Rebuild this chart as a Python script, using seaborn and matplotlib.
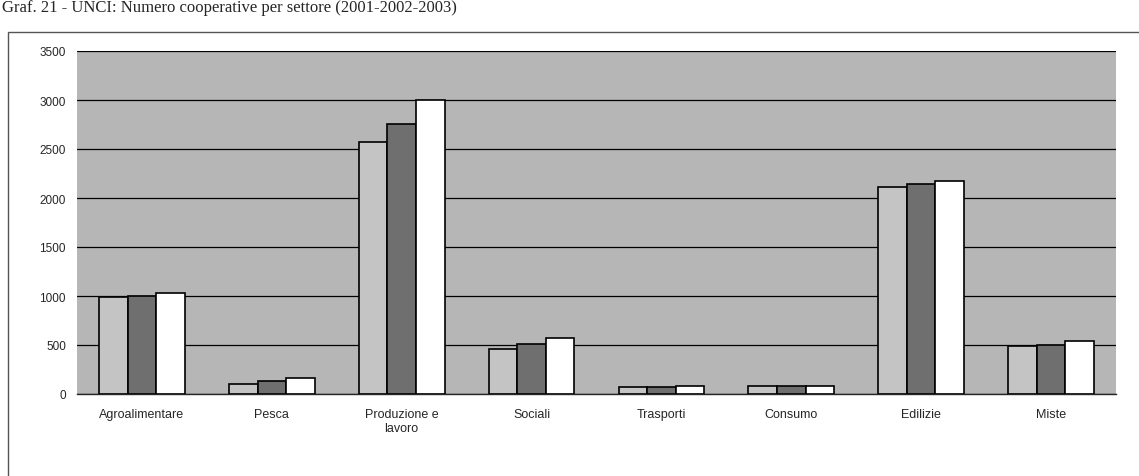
import pandas as pd
import numpy as np
import matplotlib.pyplot as plt
import matplotlib.patches as mpatches
import seaborn as sns

sns.set_style("white")
plt.rcParams['font.family'] = ['Liberation Sans', 'DejaVu Sans']

# data
settori = ["Agroalimentare", "Pesca", "Produzione e\nlavoro", "Sociali",
           "Trasporti", "Consumo", "Edilizie", "Miste"]
anni = ["2001", "2002", "2003"]
v2001 = [985, 100, 2570, 460, 70, 80, 2110, 490]
v2002 = [1000, 130, 2760, 510, 70, 80, 2140, 500]
v2003 = [1030, 160, 3000, 570, 80, 85, 2170, 540]
colori = ["#c4c4c4", "#6f6f6f", "#ffffff"]

df = pd.DataFrame({
    "settore": settori * 3,
    "anno": [a for a in anni for _ in settori],
    "valore": v2001 + v2002 + v2003,
})

fig = plt.figure(figsize=(11.39, 4.77), dpi=100)
ax = fig.add_axes([77 / 1139, 82 / 477, (1116 - 77) / 1139, (395 - 52) / 477])

sns.barplot(data=df, x="settore", y="valore", hue="anno", palette=colori,
            order=settori, hue_order=anni, width=0.66, gap=0,
            edgecolor="black", linewidth=1.2, legend=False, ax=ax, zorder=3)

ax.set_facecolor("#b6b6b6")
ax.set_ylim(0, 3500)
ax.set_yticks(np.arange(0, 3501, 500))
ax.set_xlim(-0.5, len(settori) - 0.5)
ax.yaxis.grid(True, color="black", linewidth=0.9, zorder=1)
ax.set_axisbelow(True)
ax.set_xlabel("")
ax.set_ylabel("")
ax.tick_params(axis="y", labelsize=8.5, length=0, pad=8)
ax.tick_params(axis="x", labelsize=9, length=0, pad=10)
ax.set_xticks(np.arange(-0.5, len(settori), 1), minor=True)
ax.tick_params(axis="x", which="minor", length=3, width=0.6, direction="out")
for s in ["top", "right", "left"]:
    ax.spines[s].set_visible(False)
ax.spines["bottom"].set_linewidth(1.0)

# outer frame and title
frame = mpatches.Rectangle((8 / 1139, -0.02), 1.05, 1 - 33 / 477 + 0.02,
                           transform=fig.transFigure, fill=False,
                           edgecolor="#555555", linewidth=1.0, clip_on=False)
fig.patches.append(frame)
fig.text(2 / 1139, 1 - 12 / 477,
         "Graf. 21 - UNCI: Numero cooperative per settore (2001-2002-2003)",
         family="Liberation Serif", fontsize=12, va="baseline", ha="left")

fig.savefig("out.png", dpi=100)
